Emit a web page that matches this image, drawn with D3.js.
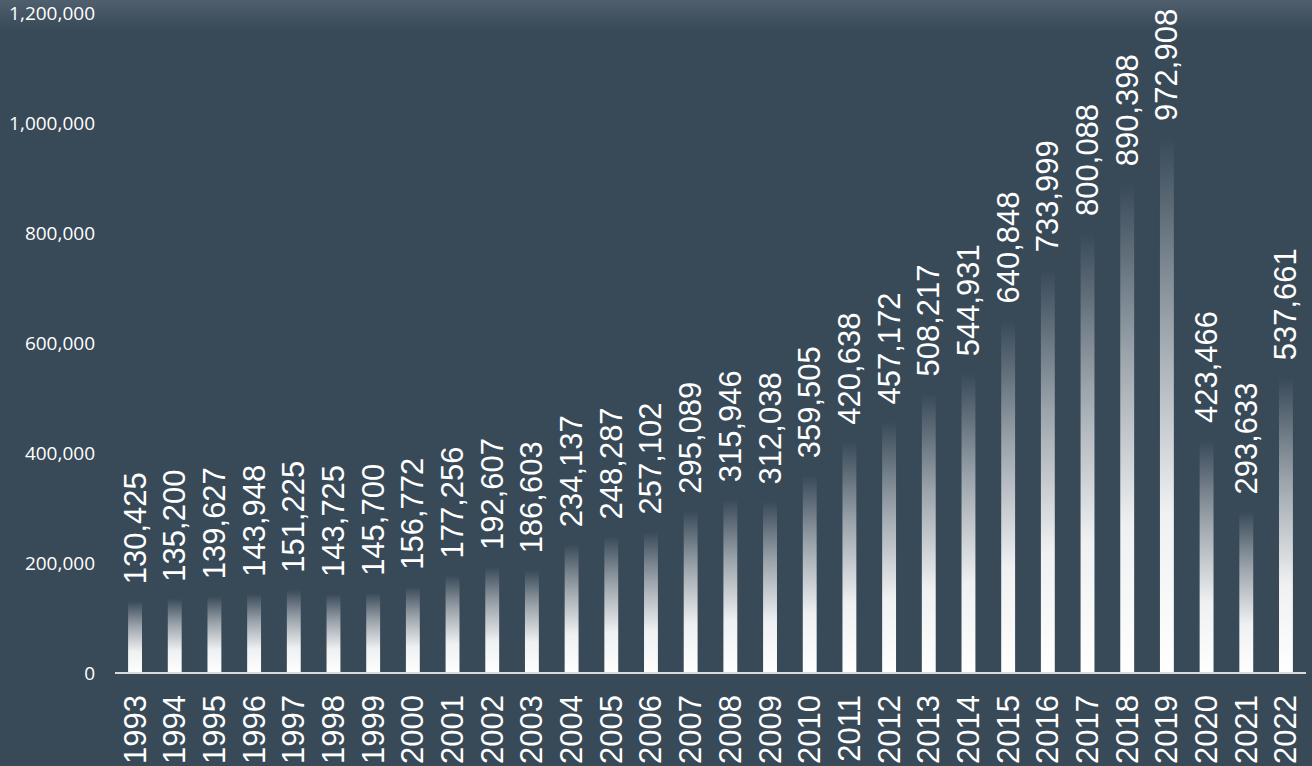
<!DOCTYPE html>
<html><head><meta charset="utf-8">
<script src="https://cdn.jsdelivr.net/npm/d3@7"></script>
<style>html,body{margin:0;padding:0;background:#384958;overflow:hidden}</style>
</head><body><svg id="chart" width="1312" height="766"></svg>
<script>
const years = ["1993","1994","1995","1996","1997","1998","1999","2000","2001","2002","2003","2004","2005","2006","2007","2008","2009","2010","2011","2012","2013","2014","2015","2016","2017","2018","2019","2020","2021","2022"];
const values = [130425,135200,139627,143948,151225,143725,145700,156772,177256,192607,186603,234137,248287,257102,295089,315946,312038,359505,420638,457172,508217,544931,640848,733999,800088,890398,972908,423466,293633,537661];
const yTicks = [0,200000,400000,600000,800000,1000000,1200000];

const W = 1312, H = 766;
const svg = d3.select("#chart");
const defs = svg.append("defs");

const bgGrad = defs.append("linearGradient").attr("id","bgTop").attr("x1",0).attr("y1",0).attr("x2",0).attr("y2",1);
bgGrad.append("stop").attr("offset","0%").attr("stop-color","#4f5f6e");
bgGrad.append("stop").attr("offset","100%").attr("stop-color","#384958");
svg.append("rect").attr("width",W).attr("height",H).attr("fill","#384958");
svg.append("rect").attr("width",W).attr("height",30).attr("fill","url(#bgTop)");

const barGrad = defs.append("linearGradient").attr("id","barGrad").attr("x1",0).attr("y1",0).attr("x2",0).attr("y2",1);
[[0,0],[0.35,0.5],[0.7,0.92],[1,1]].forEach(([o,a])=>barGrad.append("stop").attr("offset",o).attr("stop-color","#ffffff").attr("stop-opacity",a));

const x = d3.scaleBand().domain(years).range([115,1306]).paddingInner(0.65).paddingOuter(0.33);
const y = d3.scaleLinear().domain([0,1200000]).range([673,13]);

// y axis labels
const yAxis = d3.axisLeft(y).tickValues(yTicks).tickFormat(d3.format(",")).tickSize(0).tickPadding(0);
const ya = svg.append("g").attr("transform","translate(95,0)").call(yAxis);
ya.select(".domain").remove();
ya.selectAll("text").attr("fill","#ffffff").style("font-family","'Open Sans'").style("font-size","19px");

// bars
svg.append("g").selectAll("rect").data(values).join("rect")
  .attr("x",(d,i)=>x(years[i]))
  .attr("width",x.bandwidth())
  .attr("y",d=>y(d))
  .attr("height",d=>y(0)-y(d))
  .attr("fill","url(#barGrad)");

// x axis line
const xAxis = d3.axisBottom(x).tickSize(0).tickPadding(0);
const xa = svg.append("g").attr("transform",`translate(0,${y(0)})`).call(xAxis);
xa.select(".domain").attr("stroke","#d9d9d9").attr("stroke-width",2).attr("d","M115,0H1306");
xa.selectAll(".tick text")
  .attr("fill","#ffffff")
  .style("font-family","'Liberation Sans', Arial")
  .style("font-size","31px")
  .attr("text-anchor","end")
  .attr("dy",null)
  .attr("dominant-baseline","central")
  .attr("transform","translate(0,22) rotate(-90)")
  .attr("x",0).attr("y",0);

// value labels
svg.append("g").selectAll("text").data(values).join("text")
  .attr("transform",(d,i)=>`translate(${x(years[i])+x.bandwidth()/2},${y(d)-17}) rotate(-90)`)
  .attr("text-anchor","start")
  .attr("dominant-baseline","central")
  .attr("fill","#ffffff")
  .style("font-family","'Liberation Sans', Arial")
  .style("font-size","31px")
  .text(d=>d3.format(",")(d));
</script></body></html>
